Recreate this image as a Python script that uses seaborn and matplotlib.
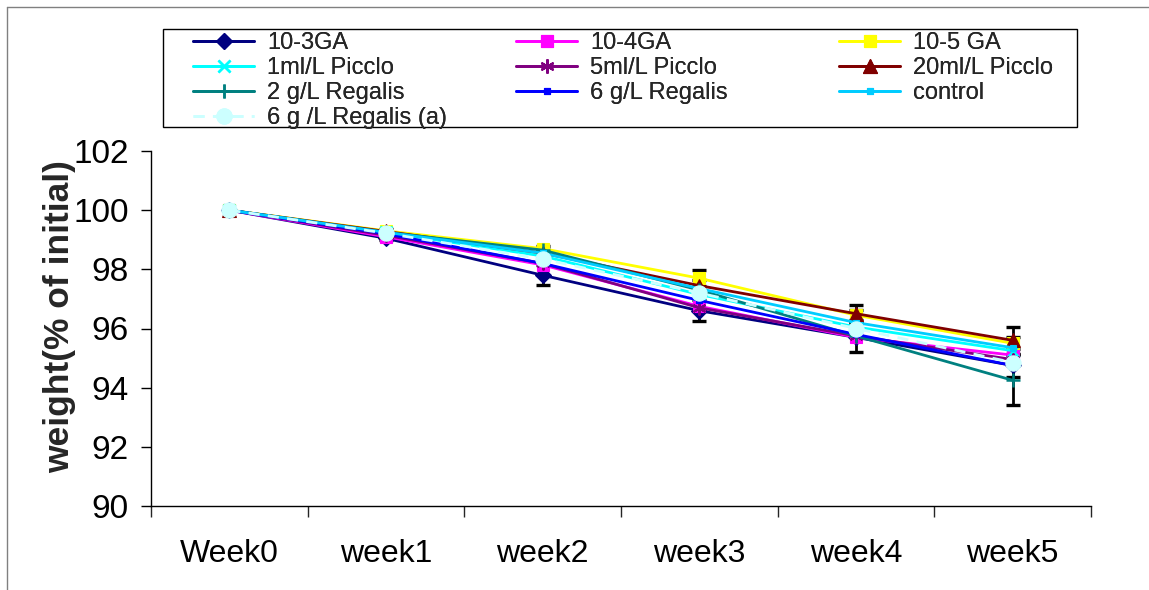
import numpy as np
import pandas as pd
import matplotlib
matplotlib.use("Agg")
import matplotlib.pyplot as plt
from matplotlib.lines import Line2D
from matplotlib.patches import Rectangle
import seaborn as sns

# ---- data -------------------------------------------------------------
weeks = ["Week0", "week1", "week2", "week3", "week4", "week5"]

ga_10_3 = [100, 99.05, 97.8, 96.6, 95.7, 94.75]
ga_10_4 = [100, 99.10, 98.15, 96.75, 95.7, 95.1]
ga_10_5 = [100, 99.30, 98.7, 97.7, 96.45, 95.5]
picclo_1 = [100, 99.25, 98.45, 97.15, 96.05, 95.25]
picclo_5 = [100, 99.15, 98.2, 96.7, 95.75, 94.95]
picclo_20 = [100, 99.28, 98.55, 97.45, 96.5, 95.6]
regalis_2 = [100, 99.25, 98.65, 97.3, 95.75, 94.25]
regalis_6 = [100, 99.2, 98.2, 96.95, 95.8, 94.75]
control = [100, 99.25, 98.55, 97.35, 96.2, 95.35]
regalis_6a = [100, 99.22, 98.35, 97.2, 96.0, 94.85]

# standard errors shown as error bars
err_10_3 = [0, 0.05, 0.33, 0.35, 0.5, 0.4]
err_10_5 = [0, 0.05, 0.1, 0.27, 0.17, 0.2]
err_20 = [0, 0.05, 0.1, 0.2, 0.3, 0.45]
err_reg2 = [0, 0, 0, 0, 0, 0.85]

series_names = ["10-3GA", "10-4GA", "10-5 GA", "1ml/L Picclo", "5ml/L Picclo",
                "20ml/L Picclo", "2 g/L Regalis", "6 g/L Regalis", "control",
                "6 g /L Regalis (a)"]
series_values = [ga_10_3, ga_10_4, ga_10_5, picclo_1, picclo_5, picclo_20,
                 regalis_2, regalis_6, control, regalis_6a]

# ---- styles -----------------------------------------------------------
styles = {
    "10-3GA": dict(color="#000080", marker="D", ms=8),
    "10-4GA": dict(color="#FF00FF", marker="s", ms=8.5),
    "10-5 GA": dict(color="#FFFF00", marker="s", ms=8.5),
    "1ml/L Picclo": dict(color="#00FFFF", marker="x", ms=8, mew=1.8),
    "5ml/L Picclo": dict(color="#800080", marker=(6, 2, 0), ms=10, mew=1.5),
    "20ml/L Picclo": dict(color="#800000", marker="^", ms=10),
    "2 g/L Regalis": dict(color="#008080", marker="+", ms=10, mew=1.8),
    "6 g/L Regalis": dict(color="#0000FF", marker="s", ms=4),
    "control": dict(color="#00CCFF", marker="s", ms=5),
    "6 g /L Regalis (a)": dict(color="#CCFFFF", marker="o", ms=11, ls=(0, (4, 3))),
}

sns.set_theme(style="white")
plt.rcParams["font.family"] = ["Liberation Sans", "DejaVu Sans"]

W, H = 1149, 590
fig = plt.figure(figsize=(W / 100, H / 100), dpi=100)
ax = fig.add_axes([151 / W, 84 / H, 940 / W, 355 / H])

x = np.arange(len(weeks))
long = pd.DataFrame({
    "week": np.tile(x, len(series_names)),
    "weight": np.concatenate(series_values),
    "series": np.repeat(series_names, len(weeks)),
})

# error bars beneath the series
for vals, err in [(ga_10_3, err_10_3), (ga_10_5, err_10_5),
                  (picclo_20, err_20), (regalis_2, err_reg2)]:
    ax.errorbar(x, vals, yerr=err, fmt="none", ecolor="black",
                elinewidth=2.0, capsize=5, capthick=2.4, zorder=1.5)

handles = {}
for i, name in enumerate(series_names):
    st = styles[name]
    sub = long[long["series"] == name]
    sns.lineplot(data=sub, x="week", y="weight", ax=ax, color=st["color"],
                 marker=st["marker"], markersize=st["ms"],
                 markeredgewidth=st.get("mew", 0.8), markeredgecolor=st["color"],
                 linewidth=2.0, linestyle=st.get("ls", "-"), zorder=2 + i * 0.01,
                 legend=False)
    handles[name] = Line2D([], [], color=st["color"], marker=st["marker"],
                           markersize=st["ms"], markeredgewidth=st.get("mew", 0.8),
                           linewidth=2.0, linestyle=st.get("ls", "-"))

ax.set_xlim(-0.5, len(weeks) - 0.5)
ax.set_ylim(90, 102)
ax.set_yticks(np.arange(90, 103, 2))
ax.set_xticks(x)
ax.set_xticklabels(weeks)
ax.set_xticks(np.arange(-0.5, len(weeks), 1), minor=True)
ax.tick_params(axis="x", which="major", length=0, pad=24, labelsize=23, colors="black")
ax.tick_params(axis="x", which="minor", length=8, width=1, direction="out", bottom=True)
ax.tick_params(axis="y", length=7, width=1, direction="out", left=True, pad=9,
               labelsize=24, colors="black")
ax.set_xlabel("")
ax.set_ylabel("weight(% of initial)", fontsize=25.5, fontweight="bold")
ax.yaxis.set_label_coords(-0.08, 0.535)
for side in ("top", "right"):
    ax.spines[side].set_visible(False)
for side in ("left", "bottom"):
    ax.spines[side].set_color("black")
    ax.spines[side].set_linewidth(1.0)

# legend: three frameless columns filled row by row, inside one box
columns = [
    (193, ["10-3GA", "1ml/L Picclo", "2 g/L Regalis", "6 g /L Regalis (a)"]),
    (516, ["10-4GA", "5ml/L Picclo", "6 g/L Regalis"]),
    (839, ["10-5 GA", "20ml/L Picclo", "control"]),
]
for x0, names in columns:
    leg = fig.legend([handles[n] for n in names], names, loc="upper left",
                     bbox_to_anchor=(x0 / W, 1 - 32 / H), fontsize=17,
                     frameon=False, handlelength=2.6, handletextpad=0.55,
                     labelspacing=0.13, borderpad=0.0, borderaxespad=0.0)
    fig.add_artist(leg)
fig.add_artist(Rectangle((163 / W, 1 - 127 / H), (1077 - 163) / W, 98 / H,
                         transform=fig.transFigure, fill=False,
                         edgecolor="black", lw=1.0))

# outer chart frame
fig.add_artist(Line2D([7 / W, 1], [1 - 7 / H, 1 - 7 / H], color="#808080", lw=1))
fig.add_artist(Line2D([7 / W, 7 / W], [0, 1 - 7 / H], color="#808080", lw=1))

fig.savefig("out.png", dpi=100)
